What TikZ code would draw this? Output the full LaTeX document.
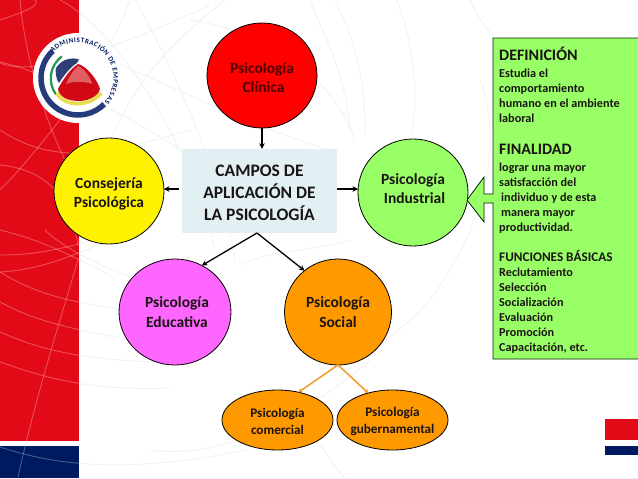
\documentclass[tikz,border=0pt]{standalone}
\usepackage{fontspec}
\setmainfont{Carlito}
\usetikzlibrary{shapes.geometric,arrows.meta,decorations.text}
\definecolor{cred}{HTML}{E30A17}
\definecolor{cblue}{HTML}{001A62}
\definecolor{cgreen}{HTML}{99FF66}
\definecolor{cmag}{HTML}{FF66FF}
\definecolor{corg}{HTML}{FF9900}
\definecolor{cline}{HTML}{F0A033}
\definecolor{cbox}{HTML}{E2F0F3}
\definecolor{ctxt}{HTML}{1A1414}
\definecolor{lblue}{HTML}{2F3F78}
\definecolor{lgreen}{HTML}{1E9A50}
\definecolor{lyellow}{HTML}{E8DC50}
\tikzset{
  circ/.style={draw=black,line width=.8pt,ellipse,inner sep=0pt,outer sep=0pt,align=center,
    text=ctxt,font=\fontsize{15.5}{19.5}\selectfont\bfseries,minimum width=#1},
  circ/.default=110pt,
  small/.style={circ,inner xsep=-12pt,minimum width=111pt,minimum height=60pt,font=\fontsize{13.2}{16.5}\selectfont\bfseries},
  arr/.style={line width=1.3pt,-{Stealth[length=5.5pt,width=5.5pt]},draw=black},
  oarr/.style={line width=1.6pt,draw=cline,-{Stealth[length=4pt,width=5pt]}},
}
\newcommand{\dnrule}[1]{\rule{0pt}{#1}}
\newcommand{\uprule}[1]{\rule[-#1]{0pt}{#1}}
\newcommand{\globelines}{%
  \draw (0,302) .. controls (30,318) and (55,326) .. (130,340);
  \draw (0,332) .. controls (30,345) and (70,360) .. (160,362);
  \draw (0,362) .. controls (30,372) and (80,392) .. (170,388);
  \draw (0,272) .. controls (30,290) and (60,302) .. (130,310);
  \draw (0,447) .. controls (40,460) and (110,478) .. (245,450);
  \draw (0,255) .. controls (30,255) and (55,252) .. (130,230);
  \draw (0,272) .. controls (30,270) and (55,264) .. (110,240);
  \draw (78,260) .. controls (60,320) and (35,400) .. (18,477);
  \draw (45,230) .. controls (70,255) and (130,280) .. (200,300);
  \draw (0,230) .. controls (40,240) and (60,250) .. (110,275);
  \draw (0,20) .. controls (30,10) and (40,5) .. (35,0);
  \draw (0,63) .. controls (30,75) and (90,60) .. (210,5);
  \draw (0,62) .. controls (40,70) and (120,110) .. (205,165);
  \draw (0,190) .. controls (40,150) and (110,60) .. (130,0);
  \draw (20,0) .. controls (25,60) and (50,150) .. (100,220);
  \draw (0,130) .. controls (60,170) and (120,150) .. (190,130);
  \draw (60,0) .. controls (100,20) and (180,110) .. (215,250);
  \draw (0,165) .. controls (50,170) and (70,200) .. (78,245);
  \draw (135,0) .. controls (170,60) and (220,170) .. (235,260);
  \draw (190,20) .. controls (260,30) and (330,70) .. (355,140);
  \draw (310,0) .. controls (325,40) and (345,70) .. (350,130);
  \draw (335,0) .. controls (360,50) and (365,90) .. (365,135);
  \draw (397,0) .. controls (415,50) and (418,90) .. (412,135);
  \draw (225,0) .. controls (150,60) and (135,90) .. (110,140);
  \draw (110,60) .. controls (180,90) and (260,130) .. (330,150);
  \draw (470,0) .. controls (490,40) and (493,30) .. (493,38);
  \draw (480,80) .. controls (500,130) and (490,200) .. (455,260);
  \draw (455,260) .. controls (430,310) and (400,330) .. (340,375);
  \draw (150,450) .. controls (220,460) and (300,420) .. (370,360);
  \draw (320,445) -- (345,479);
  \draw (240,265) .. controls (270,250) and (320,250) .. (350,240);
}
\begin{document}
\begin{tikzpicture}[x=1pt,y=-1pt]
\useasboundingbox (0,0) rectangle (638,479);
\fill[white] (0,0) rectangle (638,479);
% background globe
\begin{scope}[draw=black!5,line width=.9pt]
  \globelines
\end{scope}
\fill[black!5] (0,477.5) rectangle (638,479);
% bands
\fill[cred] (0,0) rectangle (79,441);
\fill[cblue] (0,445.5) rectangle (79,477.5);
\fill[cred] (605,419) rectangle (638,439.5);
\fill[cblue] (605,446) rectangle (638,455);
\begin{scope}
  \clip (0,0) rectangle (79,477.5);
  \begin{scope}[draw=white,draw opacity=.28,line width=.9pt]
    \globelines
  \end{scope}
\end{scope}
% logo
\fill[white] (78,78) circle[radius=45];
\begin{scope}[shift={(78,78)},x=1pt,y=1pt]
  \draw[cblue!85!white,line width=5.5pt] (133:37) arc[start angle=133,end angle=315,radius=37];
  \draw[lgreen,line width=2.2pt] (127:27) arc[start angle=127,end angle=216,radius=27.5];
  \fill[lblue] (-13,18) .. controls (-7,20) and (-2,20) .. (1,18.5)
     -- (-1,15) .. controls (-8,11) and (-16,0) .. (-19,-5)
     .. controls (-22,-2) and (-23,8) .. (-22,10) .. controls (-20,13) and (-17,16) .. (-13,18) -- cycle;
  \fill[cred!92!black] (0,14) .. controls (9,12) and (20,-3) .. (22,-11)
     .. controls (20,-20) and (8,-23) .. (1,-23)
     .. controls (-8,-23) and (-19,-20) .. (-20,-11)
     .. controls (-16,-3) and (-8,9) .. (0,14) -- cycle;
  \fill[white,opacity=.35] (0,12) .. controls (6,10) and (13,0) .. (14,-6)
     .. controls (7,-3) and (-6,-3) .. (-12,-6) .. controls (-9,1) and (-5,8) .. (0,12) -- cycle;
  \draw[lyellow,line width=3.8pt] (-21,-15) .. controls (-14,-29) and (12,-29) .. (23,-15);
  \path[decorate,decoration={text along path,text align={fit to path},
     text={|\fontsize{7}{8}\selectfont\bfseries\color{cblue}|ADMINISTRACIÓN DE EMPRESAS}}]
     (135:35.5) arc[start angle=135,end angle=-42,radius=35.5];
\end{scope}
% central box
\node[fill=cbox,minimum width=155pt,minimum height=84pt,inner sep=0pt,align=center,text=ctxt,
  font=\fontsize{17.5}{22}\selectfont\bfseries] (campos) at (259.5,191)
  {\dnrule{15pt}CAMPOS DE\\APLICACIÓN DE\\LA PSICOLOGÍA};
% right panel
\coordinate (tip) at (467,200);
\filldraw[fill=cgreen,draw=black!85!green,line width=.8pt]
  (493,38) -- (639,38) -- (639,359) -- (493,359) -- (493,203) -- (484,203) -- (484,222)
  -- (tip) -- (484,177) -- (484,194) -- (493,194) -- cycle;
\node[anchor=north west,align=left,inner sep=0pt,text=ctxt,font=\fontsize{12.2}{15}\selectfont\bfseries] (panel) at (499,46.5)
 {{\fontsize{16}{15}\selectfont DEFINICIÓN}\\[2.6pt]
  Estudia el\\comportamiento\\humano en el ambiente\\laboral\\[16.5pt]
  {\fontsize{16}{15}\selectfont FINALIDAD}\\[2.6pt]
  lograr una mayor\\satisfacción del\\\hspace*{2pt}individuo y de esta\\\hspace*{2pt}manera mayor\\productividad.\\[15pt]
  {\fontsize{13.2}{15}\selectfont FUNCIONES BÁSICAS}\\
  Reclutamiento\\Selección\\Socialización\\Evaluación\\Promoción\\Capacitación, etc.};
% circles
\node[circ=110pt,fill=red,minimum height=105pt,text=black!70!red] (clin) at (262,75.5) {\dnrule{15pt}Psicología\\\hspace*{3pt}Clínica};
\node[circ=110pt,fill=yellow,minimum height=106pt] (cons) at (109,191) {\dnrule{17pt}Consejería\\Psicológica};
\node[circ=110pt,fill=cgreen,minimum height=107pt] (indu) at (413,192.5) {Psicología\\\hspace*{3pt}Industrial\uprule{8pt}};
\node[circ=112pt,fill=cmag,minimum height=106pt] (edu) at (175,312) {\hspace*{4pt}Psicología\\\hspace*{4pt}Educativa};
\node[circ=107pt,fill=corg,minimum height=106pt] (soc) at (338,312) {Psicología\\Social};
\node[small,fill=corg] (com) at (277.5,420) {\dnrule{12pt}Psicología\\comercial};
\node[small,fill=corg] (gub) at (392.5,420) {\dnrule{12pt}Psicología\\gubernamental};
% connectors
\coordinate (apex) at (257,233);
\draw[arr] (clin.south) -- (clin.south |- campos.north);
\draw[arr,shorten <=3pt] (campos.west |- 0,189) -- (cons.east |- 0,189);
\draw[arr] (campos.east |- 0,189) -- (indu.west |- 0,189);
\draw[arr] (apex) -- (edu.60);
\draw[arr] (apex) -- (soc.129);
\draw[oarr] (soc.south) -- (com.53);
\draw[oarr] (soc.south) -- (gub.132);
\end{tikzpicture}
\end{document}
